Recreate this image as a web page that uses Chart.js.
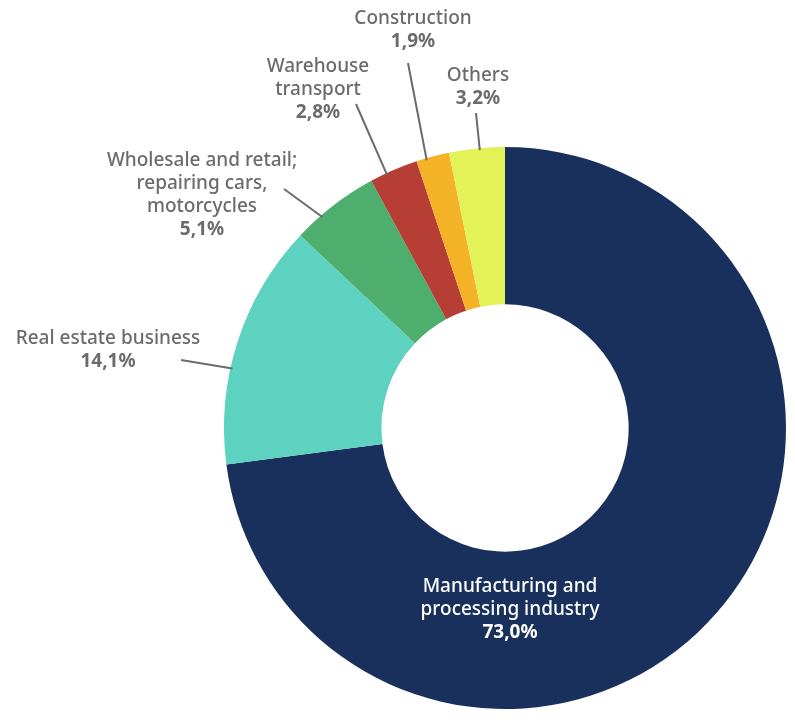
<!DOCTYPE html>
<html>
<head>
<meta charset="utf-8">
<script src="https://cdn.jsdelivr.net/npm/chart.js@4.4.0/dist/chart.umd.min.js"></script>
<style>
  html, body { margin: 0; padding: 0; background: #fff; }
  #wrap { width: 795px; height: 720px; }
</style>
</head>
<body>
<div id="wrap"><canvas id="sector-chart" width="795" height="720"></canvas></div>
<script>
// sectors, shares (%) and slice colours
const sectors = [
  ['Manufacturing and', 'processing industry'],
  ['Real estate business'],
  ['Wholesale and retail;', 'repairing cars,', 'motorcycles'],
  ['Warehouse', 'transport'],
  ['Construction'],
  ['Others']
];
const shares = [73.0, 14.1, 5.1, 2.8, 1.9, 3.2];
const colors = ['#19305c', '#5dd2c0', '#4dae6e', '#b63e35', '#f4b226', '#e2f257'];

// label block: x = centre of text, y = first line; (lx, ly) = leader end near text,
// f = where along the slice the leader touches it (0..1)
const labelPos = [
  { x: 510, y: 587, inside: true },
  { x: 108, y: 339, lx: 181, ly: 360, f: 0.39 },
  { x: 202, y: 161, lx: 284, ly: 189, f: 0.32 },
  { x: 318, y: 67, lx: 356, ly: 104, f: 0.34 },
  { x: 413, y: 19, lx: 408, ly: 63, f: 0.3 },
  { x: 478, y: 76, lx: 476, ly: 113, f: 0.55 }
];

const fmt = v => v.toFixed(1).replace('.', ',') + '%';

const labelPlugin = {
  id: 'sliceLabels',
  afterDatasetsDraw(chart) {
    const ctx = chart.ctx;
    const meta = chart.getDatasetMeta(0);
    const lineH = 23;
    ctx.save();
    ctx.textAlign = 'center';
    ctx.textBaseline = 'middle';
    meta.data.forEach((arc, i) => {
      const p = labelPos[i];
      if (!p.inside) {
        // leader from the outer edge of the slice to the text
        const a = arc.startAngle + (arc.endAngle - arc.startAngle) * p.f;
        const r = arc.outerRadius - 2;
        ctx.beginPath();
        ctx.strokeStyle = '#6b6b6b';
        ctx.lineWidth = 2;
        ctx.moveTo(arc.x + Math.cos(a) * r, arc.y + Math.sin(a) * r);
        ctx.lineTo(p.lx, p.ly);
        ctx.stroke();
      }
      ctx.fillStyle = p.inside ? '#ffffff' : '#6b6b6b';
      const lines = sectors[i];
      ctx.font = '500 19px "Noto Sans", sans-serif';
      lines.forEach((t, k) => ctx.fillText(t, p.x, p.y + k * lineH));
      ctx.font = 'bold 19px "Noto Sans", sans-serif';
      ctx.fillText(fmt(shares[i]), p.x, p.y + lines.length * lineH);
    });
    ctx.restore();
  }
};

new Chart(document.getElementById('sector-chart'), {
  type: 'doughnut',
  data: {
    labels: sectors.map(s => s.join(' ')),
    datasets: [{
      data: shares,
      backgroundColor: colors,
      borderWidth: 0
    }]
  },
  options: {
    responsive: false,
    animation: false,
    cutout: '44%',
    layout: { padding: { left: 224, right: 9, top: 147, bottom: 11 } },
    plugins: {
      legend: { display: false },
      tooltip: { enabled: false }
    }
  },
  plugins: [labelPlugin]
});
</script>
</body>
</html>
